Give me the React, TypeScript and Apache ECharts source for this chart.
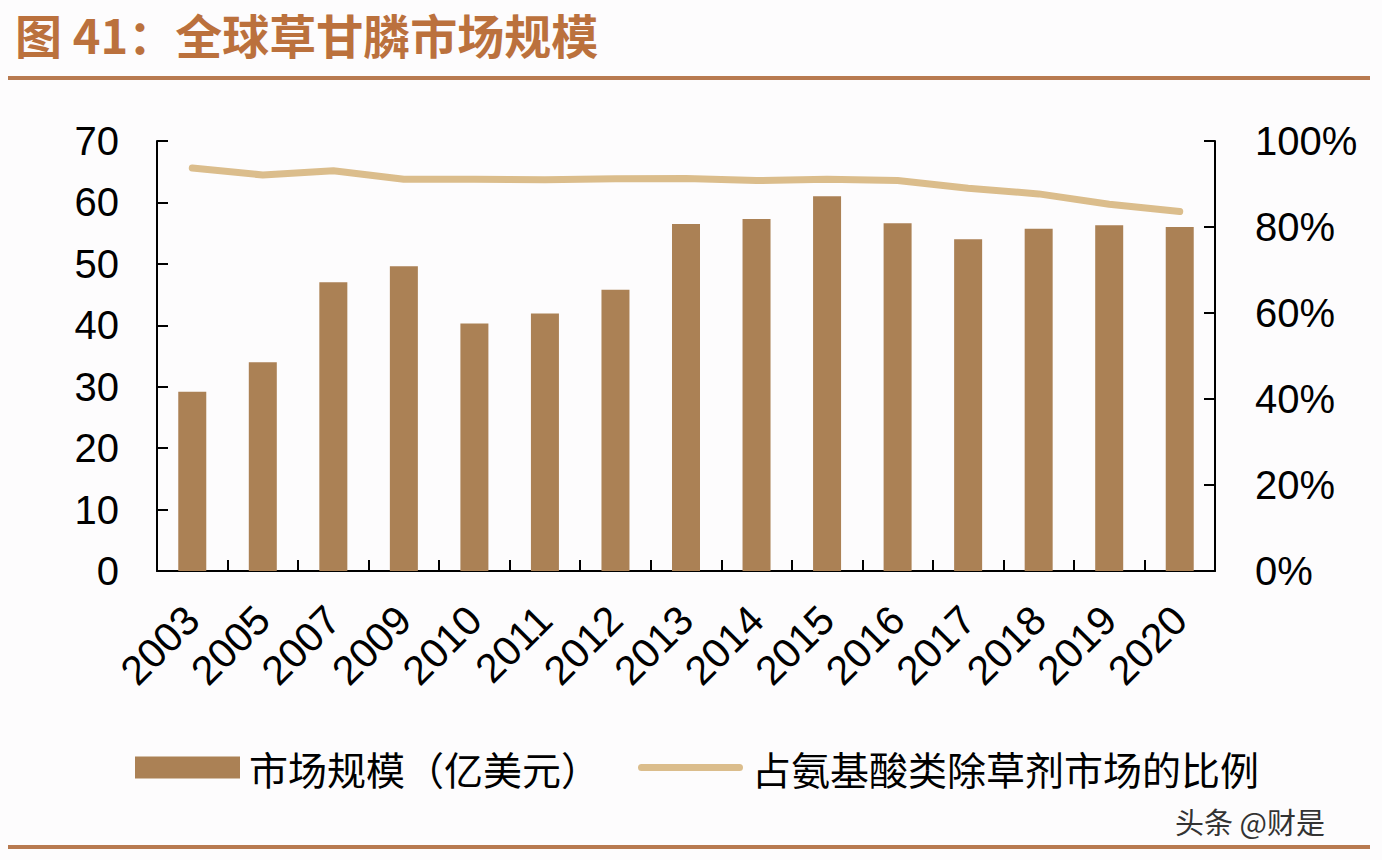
import { useEffect, useRef } from "react";
import * as echarts from "echarts";

const years = [
  "2003", "2005", "2007", "2009", "2010", "2011", "2012", "2013",
  "2014", "2015", "2016", "2017", "2018", "2019", "2020",
];
const marketSize = [
  29.2, 34.0, 47.0, 49.6, 40.3, 41.9, 45.8, 56.5, 57.3, 61.0, 56.6, 54.0,
  55.7, 56.3, 56.0,
];
const shareOfAmino = [
  93.7, 92.1, 93.1, 91.1, 91.1, 91.0, 91.2, 91.3, 90.8, 91.1, 90.8, 89.0,
  87.7, 85.3, 83.6,
];
const barName = "市场规模（亿美元）";
const lineName = "占氨基酸类除草剂市场的比例";

const latin = "'Liberation Sans', Arial, sans-serif";
const cjk = "'Noto Sans CJK SC', sans-serif";

// legend icon for the line: a 7px band centred in a 105x22 box
const lineIcon = "path://M0,0M105,22M3.5,7.5L101.5,7.5A3.5,3.5,0,0,1,101.5,14.5L3.5,14.5A3.5,3.5,0,0,1,3.5,7.5Z";

export default function App() {
  const chartRef = useRef<HTMLDivElement | null>(null);

  useEffect(() => {
    if (!chartRef.current) return;
    const chart = echarts.init(chartRef.current, undefined, { renderer: "svg" });

    const axisLine = { show: true, lineStyle: { color: "#000", width: 2 } };
    const axisTick = { show: true, inside: true, length: 11, lineStyle: { color: "#000", width: 2 } };

    chart.setOption({
      animation: false,
      backgroundColor: "#fdfcfd",
      title: {
        text: "图 41：全球草甘膦市场规模",
        left: 10,
        top: 5,
        textStyle: {
          fontFamily: cjk,
          fontSize: 47,
          fontWeight: "bold",
          color: "#bb713d",
        },
      },
      graphic: [
        {
          type: "rect",
          shape: { x: 8, y: 76, width: 1362, height: 4 },
          style: { fill: "#b87a50" },
        },
        {
          type: "rect",
          shape: { x: 8, y: 845, width: 1362, height: 4 },
          style: { fill: "#b87a50" },
        },
        {
          type: "text",
          x: 1175,
          y: 806,
          style: {
            text: "头条 @财是",
            font: `29px ${cjk}`,
            fill: "#333",
          },
        },
      ],
      legend: {
        left: 130,
        top: 743,
        itemWidth: 105,
        itemHeight: 22,
        itemGap: 38,
        textStyle: {
          fontFamily: cjk,
          fontSize: 39,
          color: "#000",
          padding: [0, 0, 0, 4],
        },
        data: [
          { name: barName, icon: "rect" },
          { name: lineName, icon: lineIcon },
        ],
      },
      grid: { left: 157, right: 167, top: 141, bottom: 289, containLabel: false },
      xAxis: {
        type: "category",
        data: years,
        boundaryGap: true,
        axisLine,
        axisTick: { ...axisTick, alignWithLabel: false },
        axisLabel: {
          rotate: 45,
          margin: 42,
          interval: 0,
          fontFamily: latin,
          fontSize: 41,
          color: "#000",
        },
      },
      yAxis: [
        {
          type: "value",
          min: 0,
          max: 70,
          interval: 10,
          axisLine,
          axisTick,
          splitLine: { show: false },
          axisLabel: { margin: 38, fontFamily: latin, fontSize: 40, color: "#000" },
        },
        {
          type: "value",
          min: 0,
          max: 100,
          interval: 20,
          position: "right",
          axisLine,
          axisTick,
          splitLine: { show: false },
          axisLabel: {
            margin: 40,
            formatter: "{value}%",
            fontFamily: latin,
            fontSize: 40,
            color: "#000",
          },
        },
      ],
      series: [
        {
          name: barName,
          type: "bar",
          data: marketSize,
          barWidth: 28,
          itemStyle: { color: "#ab8155" },
        },
        {
          name: lineName,
          type: "line",
          yAxisIndex: 1,
          data: shareOfAmino,
          symbol: "none",
          smooth: false,
          lineStyle: { color: "#dbbd8c", width: 7, cap: "round", join: "round" },
          itemStyle: { color: "#dbbd8c" },
        },
      ],
    });

    return () => chart.dispose();
  }, []);

  return (
    <div
      ref={chartRef}
      style={{ position: "absolute", left: 0, top: 0, width: 1382, height: 860 }}
    />
  );
}
